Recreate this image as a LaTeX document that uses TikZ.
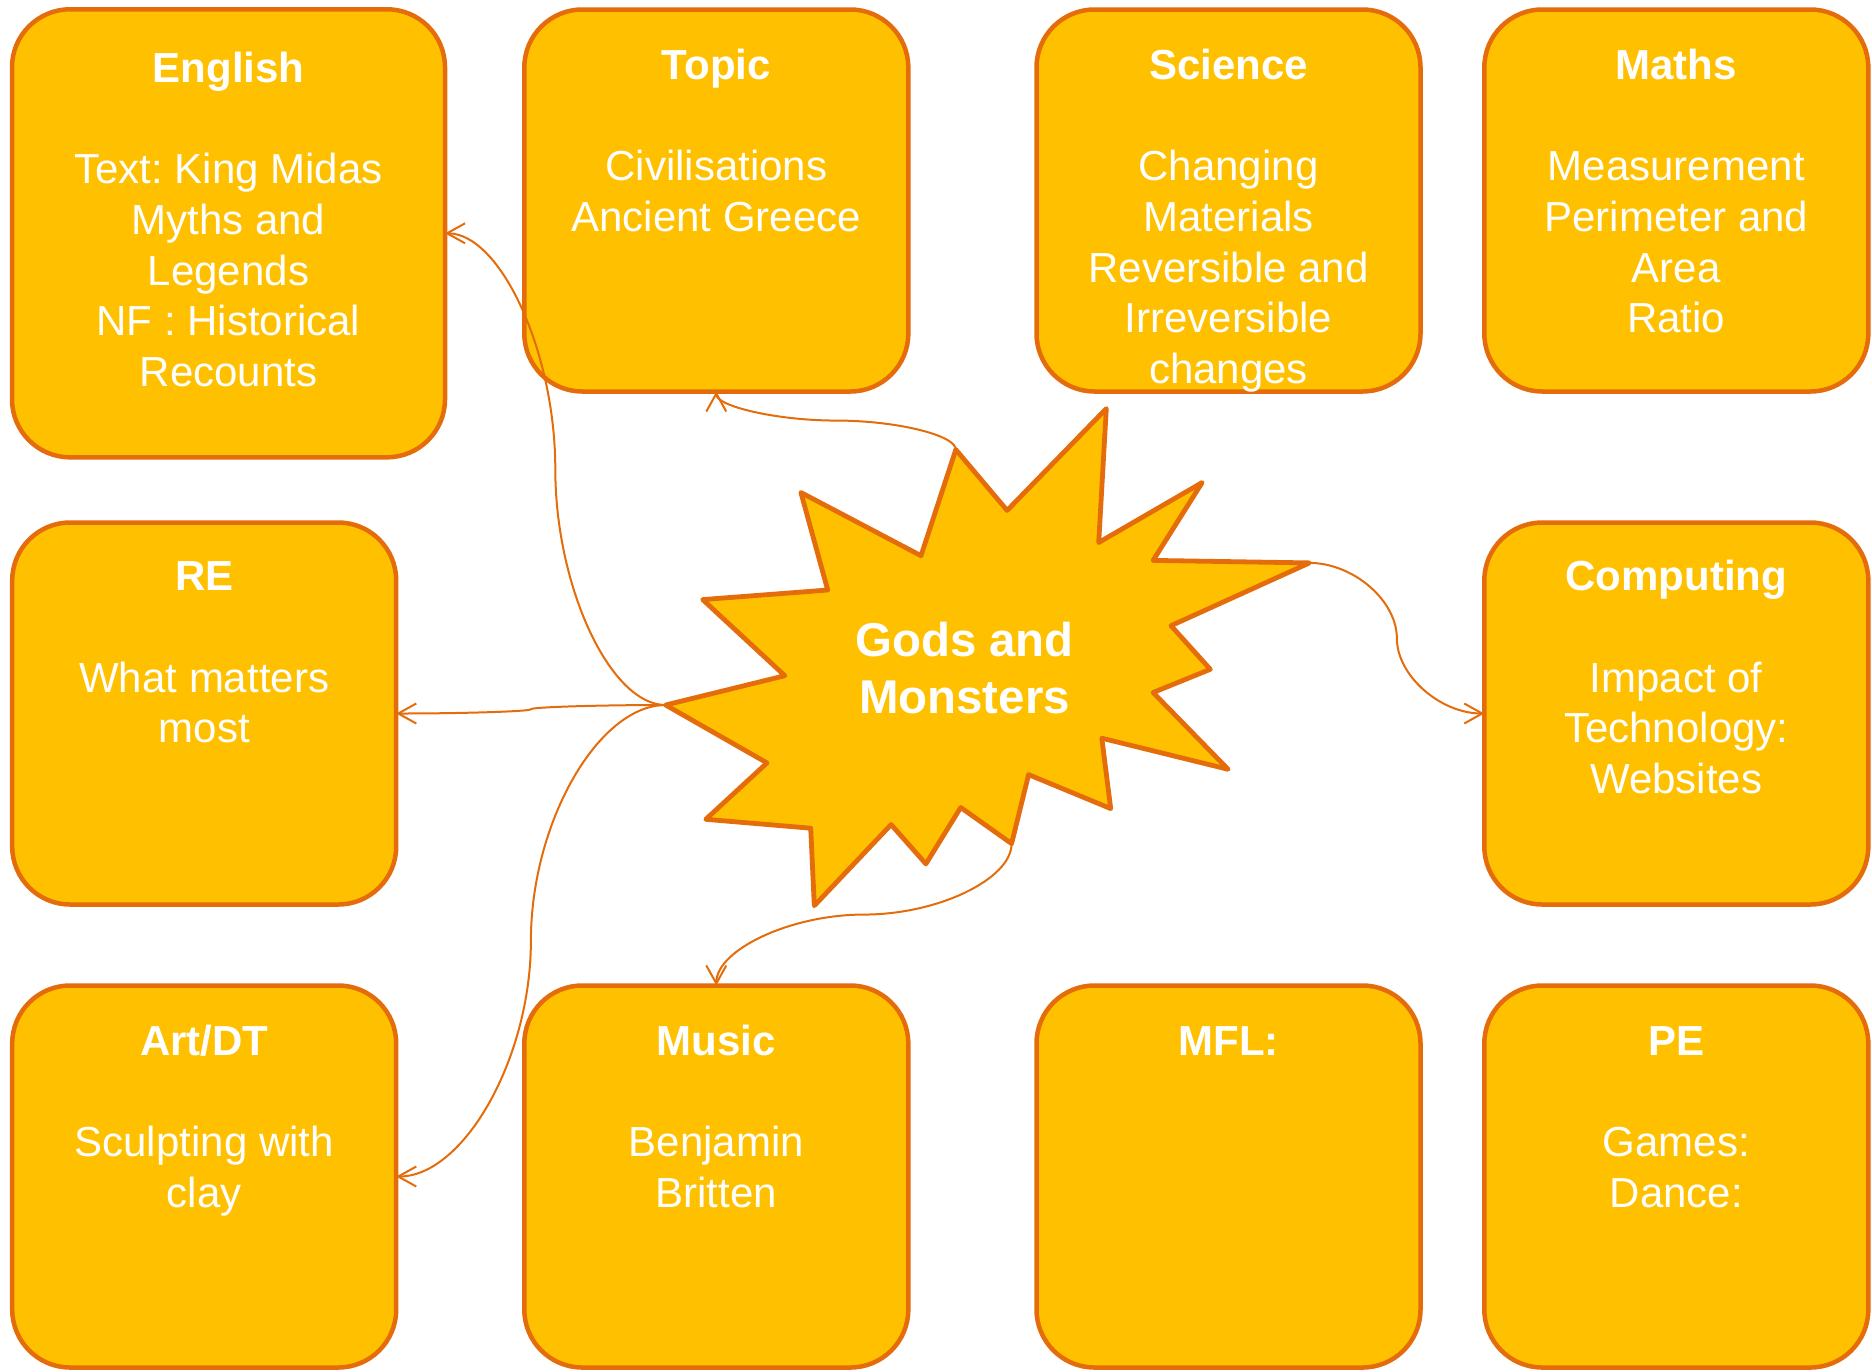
\documentclass[tikz,border=0pt]{standalone}
\usepackage{fontspec}
\setmainfont{Liberation Sans}
\usetikzlibrary{arrows.meta,calc}
\definecolor{gold}{HTML}{FFC000}
\definecolor{rim}{HTML}{E46C0A}
\newcommand\firstln{\rule{0pt}{18pt}}
\newcommand\firstbig{\rule{0pt}{20pt}}
\frenchspacing
\begin{document}
\begin{tikzpicture}[x=0.5pt,y=-0.5pt,
  box/.style={draw=rim, fill=gold, line width=2.25pt, rounded corners=29pt,
    inner sep=0pt, outer sep=0pt, minimum width=192pt, minimum height=191pt},
  txt/.style={text=white, align=center, inner sep=0pt, anchor=north,
    font=\fontsize{21pt}{25.3pt}\selectfont},
  link/.style={draw=rim, line width=1pt, -{Straight Barb[length=9pt,width=10pt]}},
  hcurve/.style={to path={let \p1=(\tikztostart), \p2=(\tikztotarget) in
    .. controls ({0.75*\x1+0.25*\x2},{\y1}) and ({0.5*\x1+0.5*\x2},{0.75*\y1+0.25*\y2})
    .. ({0.5*\x1+0.5*\x2},{0.5*\y1+0.5*\y2})
    .. controls ({0.5*\x1+0.5*\x2},{0.25*\y1+0.75*\y2}) and ({0.25*\x1+0.75*\x2},{\y2})
    .. (\tikztotarget)}},
  vcurve/.style={to path={let \p1=(\tikztostart), \p2=(\tikztotarget) in
    .. controls ({\x1},{0.75*\y1+0.25*\y2}) and ({0.75*\x1+0.25*\x2},{0.5*\y1+0.5*\y2})
    .. ({0.5*\x1+0.5*\x2},{0.5*\y1+0.5*\y2})
    .. controls ({0.25*\x1+0.75*\x2},{0.5*\y1+0.5*\y2}) and ({\x2},{0.25*\y1+0.75*\y2})
    .. (\tikztotarget)}},
  burst/.style={draw=rim, fill=gold, line width=2.4pt, line join=round}]
\useasboundingbox (0,0) rectangle (1872,1371);

% boxes
\node[box, minimum width=216.5pt, minimum height=224pt] (english) at (228.5,233.3) {};
\node[box] (topic)   at (716.3,200.5) {};
\node[box] (science) at (1228.5,200.5) {};
\node[box] (maths)   at (1676.3,200.5) {};
\node[box] (re)      at (204.2,713.5) {};
\node[box] (computing) at (1676.3,713.5) {};
\node[box] (art)     at (204.2,1176.5) {};
\node[box] (music)   at (716.3,1176.5) {};
\node[box] (mfl)     at (1228.5,1176.5) {};
\node[box] (pe)      at (1676.3,1176.5) {};

% texts
\node[txt] (englishT) at (228.5,46.3) {\firstln\textbf{English}\\[25.3pt]Text: King Midas\\Myths and\\Legends\\NF : Historical\\Recounts};
\node[txt] (topicT) at (716.3,43.3) {\firstln\textbf{Topic}\\[25.3pt]Civilisations\\Ancient Greece};
\node[txt] (scienceT) at (1228.5,43.3) {\firstln\textbf{Science}\\[25.3pt]Changing\\Materials\\Reversible and\\Irreversible\\changes};
\node[txt] (mathsT) at (1676.3,43.3) {\firstln\textbf{Maths}\\[25.3pt]Measurement\\Perimeter and\\Area\\Ratio};
\node[txt] (reT) at (204.2,554.5) {\firstln\textbf{RE}\\[25.3pt]What matters\\most};
\node[txt] (computingT) at (1676.3,554.5) {\firstln\textbf{Computing}\\[25.3pt]Impact of\\Technology:\\Websites};
\node[txt] (artT) at (204.2,1019) {\firstln\textbf{Art/DT}\\[25.3pt]Sculpting with\\clay};
\node[txt] (musicT) at (716.3,1019) {\firstln\textbf{Music}\\[25.3pt]Benjamin\\Britten};
\node[txt] (mflT) at (1228.5,1019) {\firstln\textbf{MFL:}};
\node[txt] (peT) at (1676.3,1019) {\firstln\textbf{PE}\\[25.3pt]Games:\\Dance:};

% star vertices
\coordinate (s1) at (955.8,449.6);
\coordinate (s2) at (1007.1,510.4);
\coordinate (s3) at (1106.3,408.6);
\coordinate (s4) at (1098.7,542.5);
\coordinate (s5) at (1202.2,482.5);
\coordinate (s6) at (1153.1,560.4);
\coordinate (s7) at (1309.4,562.9);
\coordinate (s8) at (1171.0,625.7);
\coordinate (s9) at (1210.3,669.3);
\coordinate (s10) at (1153.1,692.5);
\coordinate (s11) at (1228.1,769.3);
\coordinate (s12) at (1101.8,738.2);
\coordinate (s13) at (1110.7,808.6);
\coordinate (s14) at (1028.6,774.6);
\coordinate (s15) at (1011.6,843.6);
\coordinate (s16) at (960.7,807.5);
\coordinate (s17) at (925.9,863.9);
\coordinate (s18) at (891.1,824.6);
\coordinate (s19) at (814.3,905.7);
\coordinate (s20) at (810.7,828.2);
\coordinate (s21) at (705.8,819.3);
\coordinate (s22) at (767.0,762.9);
\coordinate (s23) at (665.6,705.0);
\coordinate (s24) at (784.8,675.7);
\coordinate (s25) at (702.7,599.6);
\coordinate (s26) at (827.7,590.0);
\coordinate (s27) at (800.9,492.5);
\coordinate (s28) at (921.0,555.7);

% connectors
\draw[link] (s1) to[vcurve] (topic.south);
\draw[link] (s23) to[hcurve] (english.east);
\draw[link] (s23) to[hcurve] (re.east);
\draw[link] (s23) to[hcurve] (art.east);
\draw[link] (s7) to[hcurve] (computing.west);
\draw[link] (s15) to[vcurve] (music.north);

% star
\draw[burst] (s1) -- (s2) -- (s3) -- (s4) -- (s5) -- (s6) -- (s7) -- (s8) -- (s9) -- (s10)
  -- (s11) -- (s12) -- (s13) -- (s14) -- (s15) -- (s16) -- (s17) -- (s18) -- (s19) -- (s20)
  -- (s21) -- (s22) -- (s23) -- (s24) -- (s25) -- (s26) -- (s27) -- (s28) -- cycle;
\node[text=white, align=center, inner sep=0pt, anchor=north,
  font=\fontsize{23.7pt}{28.5pt}\selectfont\bfseries] (gods) at (964.5,615.7)
  {\firstbig Gods and\\Monsters};
\end{tikzpicture}
\end{document}
